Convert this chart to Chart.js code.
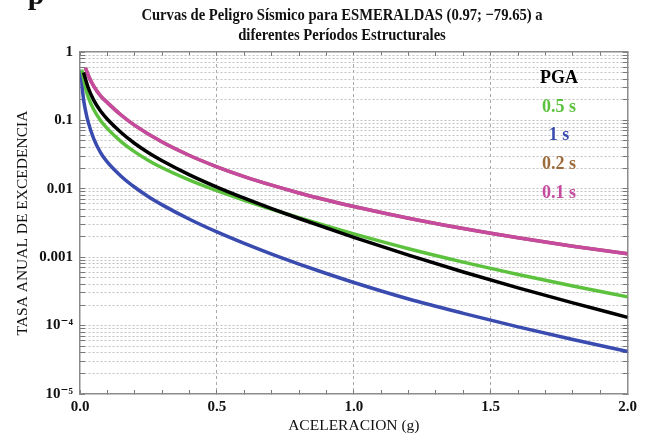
<!DOCTYPE html>
<html>
<head>
<meta charset="utf-8">
<script src="https://cdn.jsdelivr.net/npm/chart.js@4.4.0/dist/chart.umd.min.js"></script>
<style>
  html, body { margin: 0; padding: 0; background: #fff; }
  #wrap { width: 645px; height: 435px; }
</style>
</head>
<body>
<div id="wrap"><canvas id="myChart" width="645" height="435"></canvas></div>
<script>
"use strict";

// Aceleracion (g) y tasa anual de excedencia
const pgaX = [0.013, 0.03, 0.05, 0.075, 0.1, 0.15, 0.2, 0.25, 0.3, 0.4, 0.5, 0.6, 0.7, 0.8, 0.9, 1.0, 1.2, 1.4, 1.6, 1.8, 2.0];
const pgaY = [0.501, 0.300, 0.198, 0.137, 0.104, 0.0665, 0.046, 0.0337, 0.0257, 0.016, 0.0106, 0.0073, 0.00514, 0.00368, 0.00267, 0.00195, 0.00107, 0.000608, 0.000356, 0.000215, 0.000132];

const t05X = [0.007, 0.02, 0.03, 0.05, 0.075, 0.1, 0.15, 0.2, 0.25, 0.3, 0.4, 0.5, 0.6, 0.7, 0.8, 0.9, 1.0, 1.2, 1.4, 1.6, 1.8, 2.0];
const t05Y = [0.55, 0.302, 0.219, 0.144, 0.0999, 0.0758, 0.0489, 0.0346, 0.026, 0.0203, 0.0134, 0.00938, 0.00679, 0.00502, 0.00377, 0.00286, 0.00219, 0.00133, 0.000847, 0.00056, 0.00038, 0.000263];

const t1X = [0.004, 0.01, 0.02, 0.03, 0.05, 0.075, 0.1, 0.15, 0.2, 0.25, 0.3, 0.4, 0.5, 0.6, 0.7, 0.8, 0.9, 1.0, 1.2, 1.4, 1.6, 1.8, 2.0];
const t1Y = [0.55, 0.254, 0.140, 0.0944, 0.0543, 0.0339, 0.0245, 0.0153, 0.01053, 0.00767, 0.00582, 0.00359, 0.00234, 0.00159, 0.00111, 0.000794, 0.000578, 0.000427, 0.000245, 0.000151, 0.0000959, 0.0000628, 0.0000419];

const t02X = [0.02, 0.03, 0.05, 0.075, 0.1, 0.15, 0.2, 0.3, 0.4, 0.5, 0.6, 0.7, 0.8, 0.9, 1.0, 1.2, 1.4, 1.6, 1.8, 2.0];
const t02Y = [0.589, 0.457, 0.316, 0.229, 0.182, 0.120, 0.0847, 0.0482, 0.0307, 0.021, 0.0151, 0.0113, 0.00869, 0.00686, 0.0055, 0.00371, 0.00262, 0.00192, 0.00145, 0.00112];

const t01X = [0.02, 0.03, 0.05, 0.075, 0.1, 0.15, 0.2, 0.3, 0.4, 0.5, 0.6, 0.7, 0.8, 0.9, 1.0, 1.2, 1.4, 1.6, 1.8, 2.0];
const t01Y = [0.589, 0.457, 0.316, 0.229, 0.182, 0.120, 0.0847, 0.0482, 0.0307, 0.021, 0.0151, 0.0113, 0.00869, 0.00686, 0.0055, 0.00371, 0.00262, 0.00192, 0.00145, 0.00112];

const seriesLabels = ["PGA", "0.5 s", "1 s", "0.2 s", "0.1 s"];
const seriesColors = ["#000000", "#5cc23e", "#3a4bb0", "#9c6b3c", "#c64a9f"];

const yTickLabels = ["1", "0.1", "0.01", "0.001", "10\u207B\u2074", "10\u207B\u2075"];
const xTickLabels = ["0.0", "0.5", "1.0", "1.5", "2.0"];

const titleLines = ["Curvas de Peligro S\u00EDsmico para ESMERALDAS (0.97; \u221279.65) a", "diferentes Per\u00EDodos Estructurales"];
const xTitle = "ACELERACION (g)";
const yTitle = "TASA ANUAL DE EXCEDENCIA";

const serif = "'Liberation Serif', 'DejaVu Serif', serif";

function pts(xs, ys) {
    return xs.map((x, i) => ({x: x, y: ys[i]}));
}

// marcas del eje logaritmico: 1..9 por decada
function logTicks(scale) {
    const ticks = [];
    for (let e = -5; e < 0; e++) {
        for (let k = 1; k <= 9; k++) {
            ticks.push({value: Number((k * Math.pow(10, e)).toPrecision(3))});
        }
    }
    ticks.push({value: 1});
    scale.ticks = ticks;
}

function isDecade(v) {
    const l = Math.log10(v);
    return Math.abs(l - Math.round(l)) < 1e-6;
}

function isHalf(v) {
    return Math.abs(v * 2 - Math.round(v * 2)) < 1e-6;
}

function makeSet(i, data) {
    return {
        label: seriesLabels[i],
        data: data,
        borderColor: seriesColors[i],
        borderWidth: 3.5,
        pointRadius: 0,
        fill: false,
        cubicInterpolationMode: "monotone",
        xAxisID: "x",
        yAxisID: "y"
    };
}

const textos = {
    id: "textos",
    afterDraw(chart) {
        const ctx = chart.ctx;
        ctx.save();
        ctx.textAlign = "center";

        // fragmento de texto cortado arriba a la izquierda
        ctx.fillStyle = "#111";
        ctx.font = "bold 30px " + serif;
        ctx.textBaseline = "alphabetic";
        ctx.fillText("p", 36, 4);
        ctx.textBaseline = "middle";

        // titulo
        ctx.font = "bold 17px " + serif;
        const tY = [16, 36];
        titleLines.forEach((t, i) => {
            ctx.save();
            ctx.translate(342, tY[i]);
            ctx.scale(0.86, 1);
            ctx.fillText(t, 0, 0);
            ctx.restore();
        });

        // leyenda
        const legY = [78, 107, 135, 164, 193];
        ctx.font = "bold 18px " + serif;
        seriesLabels.forEach((t, i) => {
            ctx.fillStyle = seriesColors[i];
            ctx.fillText(t, 559, legY[i]);
        });
        ctx.restore();
    }
};

const ctx = document.getElementById("myChart").getContext("2d");
const myChart = new Chart(ctx, {
    type: "line",
    data: {
        datasets: [
            makeSet(0, pts(pgaX, pgaY)),
            makeSet(1, pts(t05X, t05Y)),
            makeSet(2, pts(t1X, t1Y)),
            makeSet(4, pts(t01X, t01Y)),
            makeSet(3, pts(t02X, t02Y))
        ]
    },
    options: {
        responsive: false,
        animation: false,
        devicePixelRatio: 1,
        layout: {padding: {top: 52, right: 15, left: 0, bottom: 0}},
        plugins: {
            legend: {display: false},
            tooltip: {enabled: false},
            title: {display: false}
        },
        scales: {
            x: {
                type: "linear",
                position: "bottom",
                min: 0,
                max: 2,
                ticks: {
                    stepSize: 0.1,
                    autoSkip: false,
                    maxRotation: 0,
                    padding: 8,
                    color: "#111",
                    font: {family: serif, size: 15, weight: "bold"},
                    callback: (v) => isHalf(v) ? xTickLabels[Math.round(v * 2)] : ""
                },
                grid: {
                    color: (c) => (c.tick && isHalf(c.tick.value) && c.tick.value > 0.01 && c.tick.value < 1.99) ? "#a9a9a9" : "rgba(0,0,0,0)",
                    lineWidth: 1,
                    tickLength: -4,
                    tickColor: "#777",
                    tickWidth: 1
                },
                border: {color: "#8c8c8c", width: 1.5, dash: [3, 3]},
                title: {
                    display: true,
                    text: xTitle,
                    color: "#111",
                    font: {family: serif, size: 15.5},
                    padding: 0
                },
                afterFit: (s) => { s.height = 41; }
            },
            x2: {
                type: "linear",
                position: "top",
                min: 0,
                max: 2,
                ticks: {stepSize: 0.1, autoSkip: false, display: false},
                grid: {drawOnChartArea: false, tickLength: -4, tickColor: "#777"},
                border: {color: "#8c8c8c", width: 1.5},
                afterFit: (s) => { s.height = 0; }
            },
            y: {
                type: "logarithmic",
                position: "left",
                min: 0.00001,
                max: 1,
                afterBuildTicks: logTicks,
                ticks: {
                    autoSkip: false,
                    padding: 12,
                    color: "#111",
                    font: {family: serif, size: 15, weight: "bold"},
                    callback: (v) => isDecade(v) ? yTickLabels[Math.round(-Math.log10(v))] : ""
                },
                grid: {
                    color: (c) => (c.tick && c.tick.value > 0.0000101 && c.tick.value < 0.99) ? "#c2c2c2" : "rgba(0,0,0,0)",
                    lineWidth: 1,
                    tickLength: -5,
                    tickColor: "#777",
                    tickWidth: 1
                },
                border: {color: "#8c8c8c", width: 1.5, dash: [2, 2]},
                title: {
                    display: true,
                    text: yTitle,
                    color: "#111",
                    font: {family: serif, size: 15.5},
                    padding: {top: 14}
                },
                afterFit: (s) => { s.width = 80; }
            },
            y2: {
                type: "logarithmic",
                position: "right",
                min: 0.00001,
                max: 1,
                afterBuildTicks: logTicks,
                ticks: {autoSkip: false, display: false},
                grid: {drawOnChartArea: false, tickLength: -5, tickColor: "#777"},
                border: {color: "#8c8c8c", width: 1.5},
                afterFit: (s) => { s.width = 0; }
            }
        }
    },
    plugins: [textos]
});
</script>
</body>
</html>
